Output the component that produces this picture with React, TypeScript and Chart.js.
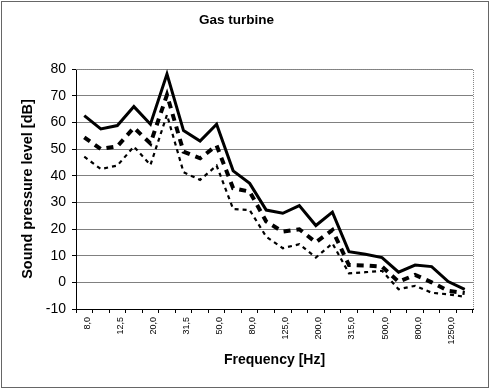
import { useEffect, useRef } from 'react';
import { Chart, registerables } from 'chart.js';

Chart.register(...registerables);

const categories = ['8,0', '10,0', '12,5', '16,0', '20,0', '25,0', '31,5', '40,0', '50,0', '63,0', '80,0', '100,0', '125,0', '160,0', '200,0', '250,0', '315,0', '400,0', '500,0', '630,0', '800,0', '1000,0', '1250,0', '1600,0'];
const solidSeries = [62.5, 57.5, 58.8, 65.9, 59.3, 78.1, 56.9, 53, 59.3, 41.8, 37.1, 27.1, 25.9, 28.8, 21.3, 26.3, 11.5, 10.5, 9.3, 3.8, 6.5, 5.9, 0.3, -2.6];
const dashedSeries = [54.4, 50, 51, 58, 52.1, 70.3, 49, 46.5, 51.3, 35.3, 34, 22.8, 19, 19.9, 15, 19.6, 6.5, 6.3, 5.9, 0.2, 2.8, 0, -3.2, -4];
const dottedSeries = [47.1, 42.5, 43.8, 50.9, 44, 62.8, 41.3, 38.4, 43.8, 27.5, 27.1, 17.1, 12.8, 14.3, 9.3, 14.6, 3.4, 3.8, 4.3, -2.6, -1.3, -3.9, -4.5, -5.4];
const yMin = -10;
const yMax = 80;
const yStep = 10;

const FONT = "Arial, 'Liberation Sans', sans-serif";

const framePlugin = {
  id: 'frame',
  beforeDraw(chart: any) {
    const ctx = chart.ctx;
    ctx.save();
    ctx.fillStyle = '#fff';
    ctx.fillRect(0, 0, chart.width, chart.height);
    ctx.restore();
  },
  beforeDatasetsDraw(chart: any) {
    const { ctx, chartArea } = chart;
    const { left, right, top, bottom } = chartArea;
    ctx.save();
    ctx.strokeStyle = '#888';
    ctx.lineWidth = 1;
    ctx.setLineDash([1, 1]);
    ctx.beginPath();
    ctx.moveTo(left, Math.round(top) + 0.5);
    ctx.lineTo(Math.round(right) + 0.5, Math.round(top) + 0.5);
    ctx.lineTo(Math.round(right) + 0.5, bottom);
    ctx.stroke();
    ctx.restore();
  },
  afterDraw(chart: any) {
    const ctx = chart.ctx;
    ctx.save();
    ctx.strokeStyle = '#666';
    ctx.lineWidth = 1;
    ctx.strokeRect(1.5, 1.5, 487, 386);
    ctx.restore();
  },
};

export default function App() {
  const canvasRef = useRef<HTMLCanvasElement | null>(null);

  useEffect(() => {
    if (!canvasRef.current) return;
    const chart = new Chart(canvasRef.current, {
      type: 'line',
      data: {
        labels: categories,
        datasets: [
          {
            label: 'Solid',
            data: solidSeries,
            borderColor: '#000',
            borderWidth: 3,
            pointRadius: 0,
            tension: 0,
            fill: false,
          },
          {
            label: 'Dashed',
            data: dashedSeries,
            borderColor: '#000',
            borderWidth: 4,
            borderDash: [7, 6],
            pointRadius: 0,
            tension: 0,
            fill: false,
          },
          {
            label: 'Dotted',
            data: dottedSeries,
            borderColor: '#000',
            borderWidth: 2.2,
            borderDash: [4, 4],
            pointRadius: 0,
            tension: 0,
            fill: false,
          },
        ],
      },
      options: {
        responsive: false,
        animation: false,
        layout: { padding: { left: 0, right: 17, top: 0, bottom: 0 } },
        plugins: {
          legend: { display: false },
          tooltip: { enabled: false },
          title: {
            display: true,
            text: 'Gas turbine',
            color: '#000',
            font: { family: FONT, size: 13.5, weight: 'bold' },
            padding: { top: 12.6, bottom: 40.2 },
          },
        },
        scales: {
          x: {
            type: 'category',
            offset: true,
            afterFit(scale: any) {
              scale.height = 81;
            },
            grid: {
              display: true,
              drawOnChartArea: false,
              offset: true,
              drawTicks: true,
              tickLength: 4,
              color: '#000',
              tickColor: '#000',
            },
            border: { display: true, color: '#000', width: 1 },
            ticks: {
              autoSkip: false,
              maxRotation: 90,
              minRotation: 90,
              padding: 4,
              labelOffset: 3,
              color: '#000',
              font: { family: FONT, size: 9 },
              callback: function (this: any, value: any, index: number) {
                return index % 2 === 0 ? this.getLabelForValue(value) : '';
              },
            },
            title: {
              display: true,
              text: 'Frequency [Hz]',
              color: '#000',
              font: { family: FONT, size: 14, weight: 'bold' },
              padding: { top: 0, bottom: 21.6 },
            },
          },
          y: {
            min: yMin,
            max: yMax,
            afterFit(scale: any) {
              scale.width = 76;
            },
            ticks: {
              stepSize: yStep,
              padding: 6,
              color: '#000',
              font: { family: FONT, size: 14 },
            },
            grid: {
              color: '#808080',
              lineWidth: 1,
              tickColor: '#000',
              tickLength: 4,
            },
            border: { display: true, color: '#000', width: 1 },
            title: {
              display: true,
              text: 'Sound pressure level [dB]',
              color: '#000',
              font: { family: FONT, size: 14.5, weight: 'bold' },
              padding: { top: 19.3, bottom: 0 },
            },
          },
        },
      },
      plugins: [framePlugin],
    });
    return () => chart.destroy();
  }, []);

  return (
    <div style={{ position: 'absolute', left: 0, top: 0, width: 490, height: 390, background: '#fff' }}>
      <canvas ref={canvasRef} width={490} height={390} style={{ display: 'block' }} />
    </div>
  );
}
